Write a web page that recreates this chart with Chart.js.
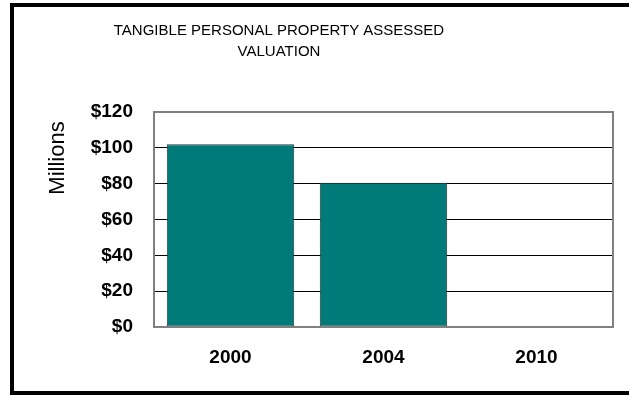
<!DOCTYPE html>
<html>
<head>
<meta charset="utf-8">
<script src="https://cdn.jsdelivr.net/npm/chart.js@4/dist/chart.umd.min.js"></script>
<style>
  html, body { margin: 0; padding: 0; background: #fff; }
  #wrap { width: 629px; height: 397px; }
</style>
</head>
<body>
<div id="wrap"><canvas id="myChart" width="629" height="397"></canvas></div>
<script>
// data
const years = ["2000", "2004", "2010"];
const assessedValue = [102, 80.5, 0]; // millions of dollars
const tickValues = [0, 20, 40, 60, 80, 100, 120];
const titleLines = ["TANGIBLE PERSONAL PROPERTY ASSESSED", "VALUATION"];
const axisTitle = "Millions";

const labelFont = { family: "'Liberation Sans', Arial, sans-serif", size: 19, weight: "bold" };

// frame, plot border and the hand placed titles
const decorations = {
  id: "decorations",
  beforeDraw(chart) {
    const { ctx } = chart;
    ctx.save();
    ctx.fillStyle = "#000";
    ctx.fillRect(10, 3, 640, 4);
    ctx.fillRect(10, 3, 4, 392);
    ctx.fillRect(10, 391, 640, 4);
    ctx.restore();
  },
  afterDraw(chart) {
    const { ctx, chartArea } = chart;
    ctx.save();
    ctx.strokeStyle = "#808080";
    ctx.lineWidth = 2;
    ctx.strokeRect(chartArea.left, chartArea.top, chartArea.right - chartArea.left, chartArea.bottom - chartArea.top);

    ctx.fillStyle = "#000";
    ctx.textAlign = "center";
    ctx.textBaseline = "middle";
    ctx.font = "15px 'Liberation Sans', Arial, sans-serif";
    ctx.fillText(titleLines[0], 279, 31);
    ctx.fillText(titleLines[1], 279, 52);

    ctx.translate(58, 158);
    ctx.rotate(-Math.PI / 2);
    ctx.font = "22px 'Liberation Sans', Arial, sans-serif";
    ctx.fillText(axisTitle, 0, 0);
    ctx.restore();
  },
};

const ctx = document.getElementById("myChart");

new Chart(ctx, {
  type: "bar",
  data: {
    labels: years,
    datasets: [
      {
        data: assessedValue,
        backgroundColor: "#017b79",
        borderColor: "#263636",
        borderWidth: 1,
        borderSkipped: false,
        categoryPercentage: 1,
        barPercentage: 0.833,
      },
    ],
  },
  options: {
    responsive: false,
    animation: false,
    layout: {
      padding: { top: 112, right: 16, bottom: 0, left: 0 },
    },
    plugins: {
      legend: { display: false },
      tooltip: { enabled: false },
      title: { display: false },
    },
    scales: {
      x: {
        afterFit(scale) {
          scale.height = 70;
        },
        grid: { display: false },
        border: { display: false },
        ticks: {
          color: "#000",
          padding: 11,
          font: labelFont,
        },
      },
      y: {
        min: 0,
        max: 120,
        afterFit(scale) {
          scale.width = 154;
        },
        afterBuildTicks(scale) {
          scale.ticks = tickValues.map((v) => ({ value: v }));
        },
        border: { display: false },
        grid: {
          drawTicks: false,
          lineWidth: 1,
          color: (c) => (c.tick && (c.tick.value === 0 || c.tick.value === 120) ? "rgba(0,0,0,0)" : "#000"),
        },
        ticks: {
          color: "#000",
          padding: 21,
          font: labelFont,
          callback: function (value) {
            return "$" + value;
          },
        },
      },
    },
  },
  plugins: [decorations],
});
</script>
</body>
</html>
